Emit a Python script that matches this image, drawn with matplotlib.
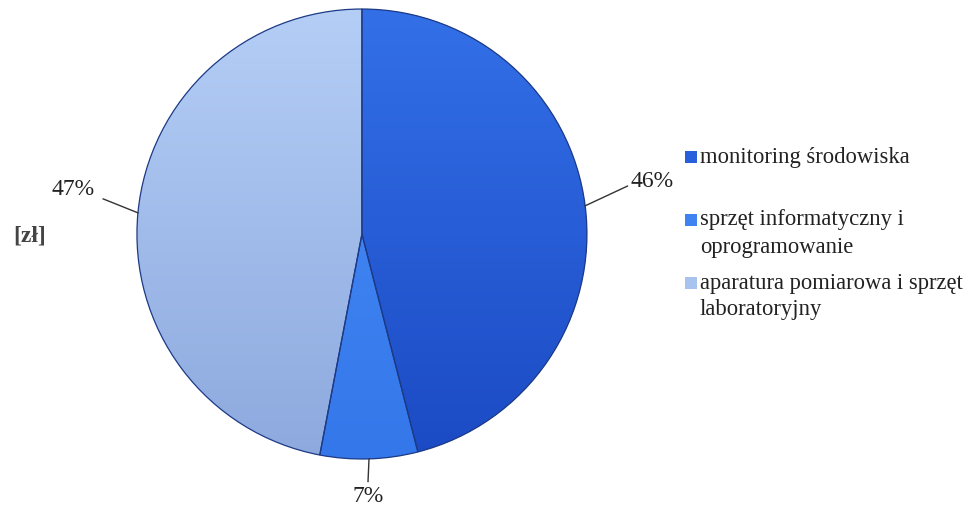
import matplotlib
matplotlib.use("Agg")
import matplotlib.pyplot as plt
import numpy as np
from matplotlib.patches import Rectangle, Wedge
from matplotlib.colors import to_rgb

categories = ["monitoring środowiska",
              "sprzęt informatyczny i\noprogramowanie",
              "aparatura pomiarowa i sprzęt\nlaboratoryjny"]
values = [46, 7, 47]
pct_labels = ["46%", "7%", "47%"]
colors = ["#2860DC", "#3F82F2", "#A8C3EE"]
top_colors = ["#3370E8", "#4A8EF8", "#B4CEF6"]
bottom_colors = ["#1B4AC4", "#3477EA", "#8DA9DE"]
unit_label = "[zł]"

plt.rcParams['font.family'] = ['Liberation Serif', 'DejaVu Serif']

W, H = 971, 508
fig = plt.figure(figsize=(W / 100, H / 100), dpi=100)
ax = fig.add_axes([0.1364, 0.0876, 0.4727, 0.9035])
wedges, _ = ax.pie(values, colors=colors, startangle=90, counterclock=False,
                   radius=1.0, wedgeprops=dict(edgecolor="none", linewidth=0))
lim = 1.02
ax.set_xlim(-lim, lim)
ax.set_ylim(-lim, lim)
ax.set_aspect('equal')
ax.axis('off')

# vertical gradient fill clipped to each wedge, with an outline on top
for w, ct, cb in zip(wedges, top_colors, bottom_colors):
    t = np.linspace(0, 1, 256)[:, None]
    img = (1 - t) * np.array(to_rgb(ct)) + t * np.array(to_rgb(cb))
    img = img[:, None, :]
    im = ax.imshow(img, extent=(-1, 1, -1, 1), origin="upper", aspect="auto",
                   zorder=2, interpolation="bilinear")
    im.set_clip_path(w)
    ax.add_patch(Wedge(w.center, w.r, w.theta1, w.theta2, fill=False,
                       edgecolor="#1d3a86", linewidth=0.9, zorder=3))
ax.set_xlim(-lim, lim)
ax.set_ylim(-lim, lim)

# label geometry (leader ends and text positions, in radius units)
leader_ends = [(1.18, 0.213), (0.027, -1.10), (-1.15, 0.156)]
text_pos = [(1.195, 0.232), (0.027, -1.168), (-1.19, 0.196)]
aligns = ["left", "center", "right"]
for w, lab, le, tp, ha in zip(wedges, pct_labels, leader_ends, text_pos, aligns):
    ang = np.deg2rad((w.theta1 + w.theta2) / 2)
    x0, y0 = np.cos(ang), np.sin(ang)
    ax.plot([x0, le[0]], [y0, le[1]], color="#333333", lw=1.0, clip_on=False, zorder=5)
    ax.text(tp[0], tp[1], lab, ha=ha, va="center", fontsize=17, color="#222222",
            clip_on=False)

fig.text(13 / W, 1 - 236 / H, unit_label, fontsize=17, fontweight="bold", color="#444444",
         ha="left", va="center")

# legend, drawn manually
entry_y = [157, 220, 283]   # pixel centres of first text line
line_pitch = 27
for cat, c, y in zip(categories, colors, entry_y):
    fig.patches.append(Rectangle((685 / W, 1 - (y + 6) / H), 12 / W, 12 / H,
                                 transform=fig.transFigure, facecolor=c,
                                 edgecolor="none"))
    for i, line in enumerate(cat.split("\n")):
        fig.text(700 / W, 1 - (y + i * line_pitch) / H, line, fontsize=16.3,
                 color="#222222", ha="left", va="center")

fig.savefig("out.png", dpi=100)
